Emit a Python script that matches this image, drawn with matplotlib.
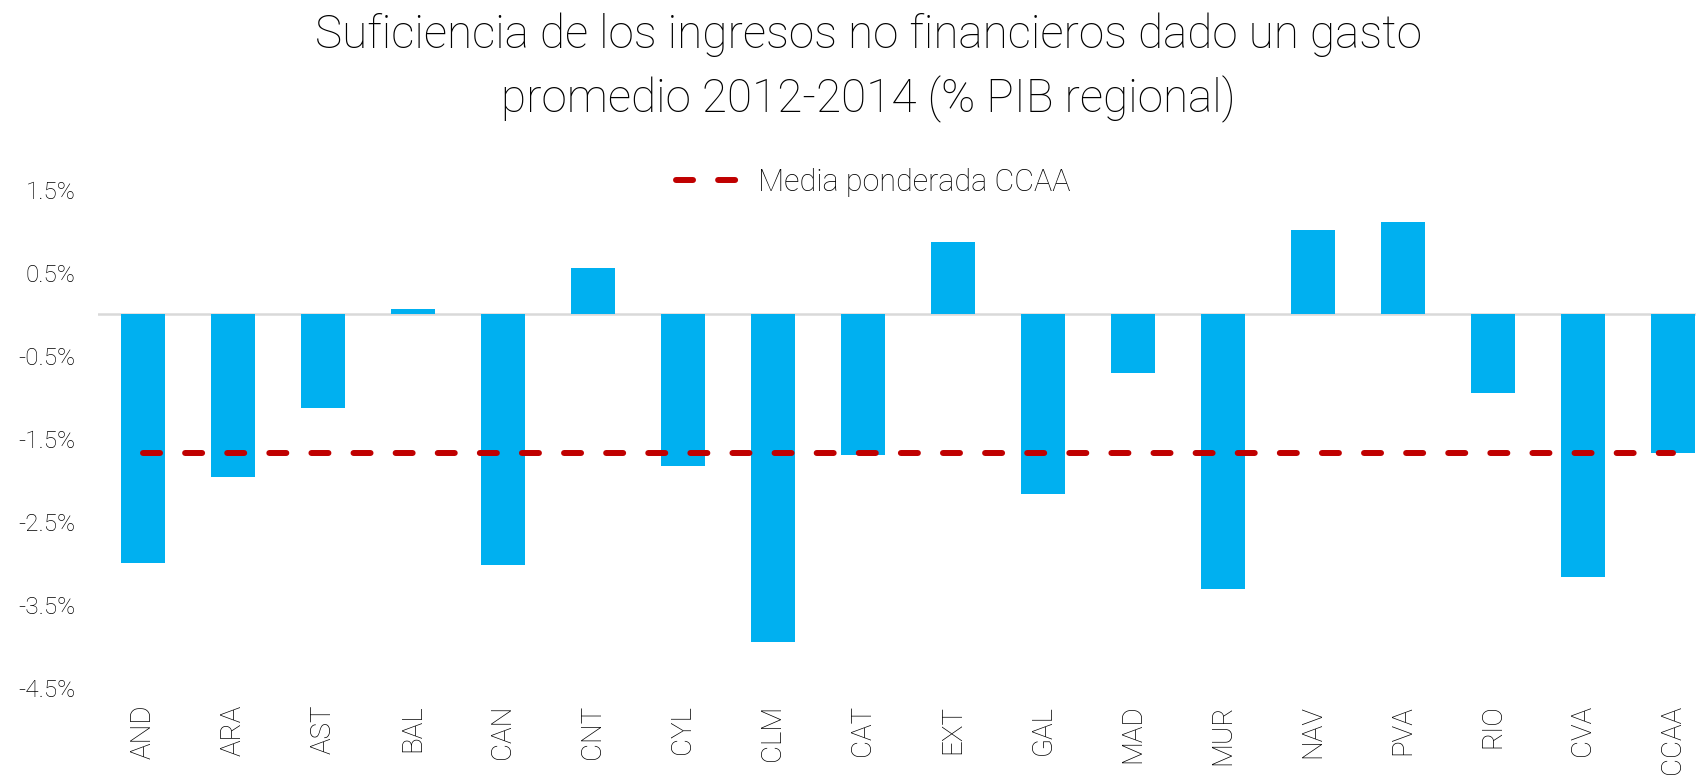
import numpy as np
import matplotlib.pyplot as plt
from matplotlib.ticker import FuncFormatter

plt.rcParams['font.family'] = ['Roboto', 'DejaVu Sans']

regions = ["AND", "ARA", "AST", "BAL", "CAN", "CNT", "CYL", "CLM", "CAT",
           "EXT", "GAL", "MAD", "MUR", "NAV", "PVA", "RIO", "CVA", "CCAA"]
suficiencia = [-3.00, -1.96, -1.13, 0.065, -3.02, 0.56, -1.83, -3.94, -1.69,
               0.87, -2.16, -0.70, -3.31, 1.02, 1.11, -0.95, -3.16, -1.67]
media_ccaa = -1.67

x = np.arange(len(regions))

fig = plt.figure(figsize=(16.96, 7.76), dpi=100)
ax = fig.add_axes([0.0578, 0.1134, 0.955, 0.6418])

ax.bar(x, suficiencia, width=0.49, color="#00B0F0", zorder=2)
ax.axhline(0, color="#D9D9D9", lw=1.8, zorder=1)
ax.plot(x, [media_ccaa] * len(x), color="#C00000", lw=4.3,
        dashes=(2.85, 4.2), dash_capstyle="round", zorder=3,
        label="Media ponderada CCAA")

ax.set_xlim(-0.5, len(regions) - 0.5)
ax.set_ylim(-4.5, 1.5)
ax.set_yticks(np.arange(-4.5, 1.6, 1.0))
ax.yaxis.set_major_formatter(FuncFormatter(lambda v, p: f"{v:.1f}%"))
ax.set_xticks(x)
ax.set_xticklabels(regions, rotation=90, fontsize=20, fontweight="light",
                   color="black")
for lab in ax.get_yticklabels():
    lab.set_fontsize(17.5)
    lab.set_fontweight("light")
    lab.set_color("black")
ax.tick_params(axis="both", length=0)
ax.tick_params(axis="y", pad=16)
ax.tick_params(axis="x", pad=12)
for s in ax.spines.values():
    s.set_visible(False)

fig.text(0.512, 0.955, "Suficiencia de los ingresos no financieros dado un gasto",
         ha="center", va="center", fontsize=33, fontweight="light", color="black")
fig.text(0.512, 0.872, "promedio 2012-2014 (% PIB regional)",
         ha="center", va="center", fontsize=33, fontweight="light", color="black")

fig.legend(loc="center", bbox_to_anchor=(0.515, 0.765), frameon=False,
           handlelength=2.2, handletextpad=0.5,
           prop={"weight": "light", "size": 22})

fig.savefig("out.png", dpi=100)
